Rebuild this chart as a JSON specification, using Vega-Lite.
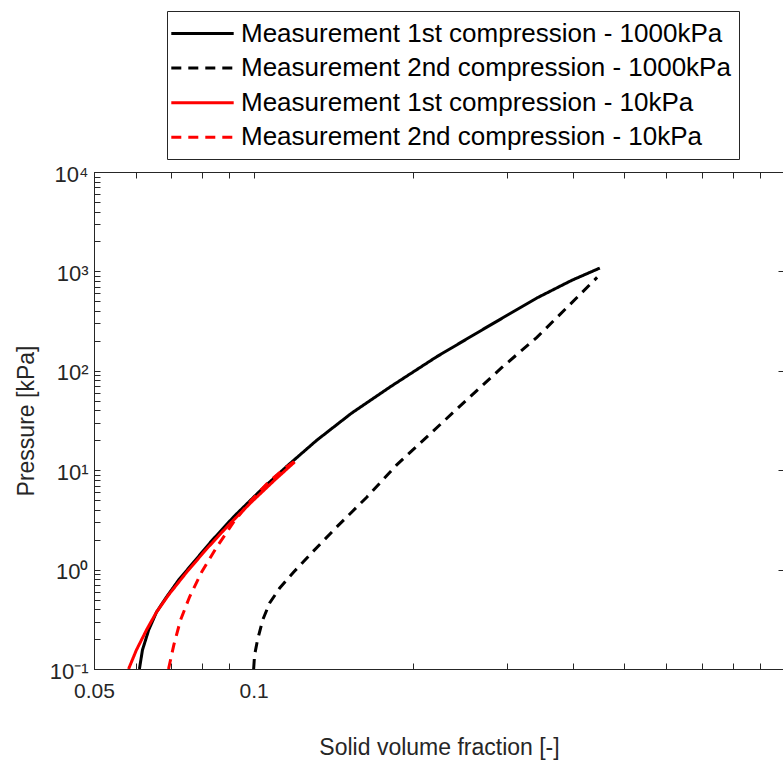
{
  "$schema": "https://vega.github.io/schema/vega-lite/v6.json",
  "width": 690,
  "height": 497,
  "autosize": {"type": "none"},
  "padding": {"left": 94, "top": 172, "right": 0, "bottom": 96},
  "background": "white",
  "config": {
    "view": {"stroke": "#262626", "strokeWidth": 1},
    "font": "Liberation Sans",
    "axis": {
      "grid": false,
      "domainColor": "#262626",
      "tickColor": "#262626",
      "labelColor": "#262626",
      "titleColor": "#262626",
      "labelFont": "Liberation Sans",
      "titleFont": "Liberation Sans",
      "labelFontSize": 21,
      "titleFontSize": 23,
      "titleFontWeight": "normal",
      "tickSize": -6,
      "labelFlush": false,
      "labelOverlap": false
    }
  },
  "datasets": {
    "curves": [
      {"series": "Measurement 1st compression - 1000kPa", "ord": 1, "x": 0.0609, "y": 0.1},
      {"series": "Measurement 1st compression - 1000kPa", "ord": 2, "x": 0.0617, "y": 0.155},
      {"series": "Measurement 1st compression - 1000kPa", "ord": 3, "x": 0.0634, "y": 0.247},
      {"series": "Measurement 1st compression - 1000kPa", "ord": 4, "x": 0.0656, "y": 0.374},
      {"series": "Measurement 1st compression - 1000kPa", "ord": 5, "x": 0.0685, "y": 0.53},
      {"series": "Measurement 1st compression - 1000kPa", "ord": 6, "x": 0.0722, "y": 0.786},
      {"series": "Measurement 1st compression - 1000kPa", "ord": 7, "x": 0.0771, "y": 1.19},
      {"series": "Measurement 1st compression - 1000kPa", "ord": 8, "x": 0.0833, "y": 1.94},
      {"series": "Measurement 1st compression - 1000kPa", "ord": 9, "x": 0.0917, "y": 3.4},
      {"series": "Measurement 1st compression - 1000kPa", "ord": 10, "x": 0.1022, "y": 6.0},
      {"series": "Measurement 1st compression - 1000kPa", "ord": 11, "x": 0.1154, "y": 10.9},
      {"series": "Measurement 1st compression - 1000kPa", "ord": 12, "x": 0.1315, "y": 20.0},
      {"series": "Measurement 1st compression - 1000kPa", "ord": 13, "x": 0.1531, "y": 37.6},
      {"series": "Measurement 1st compression - 1000kPa", "ord": 14, "x": 0.1821, "y": 70.5},
      {"series": "Measurement 1st compression - 1000kPa", "ord": 15, "x": 0.2214, "y": 138.6},
      {"series": "Measurement 1st compression - 1000kPa", "ord": 16, "x": 0.2752, "y": 275},
      {"series": "Measurement 1st compression - 1000kPa", "ord": 17, "x": 0.3420, "y": 540},
      {"series": "Measurement 1st compression - 1000kPa", "ord": 18, "x": 0.3979, "y": 813},
      {"series": "Measurement 1st compression - 1000kPa", "ord": 19, "x": 0.4495, "y": 1081},
      {"series": "Measurement 2nd compression - 1000kPa", "ord": 1, "x": 0.1000, "y": 0.1},
      {"series": "Measurement 2nd compression - 1000kPa", "ord": 2, "x": 0.1004, "y": 0.138},
      {"series": "Measurement 2nd compression - 1000kPa", "ord": 3, "x": 0.1017, "y": 0.196},
      {"series": "Measurement 2nd compression - 1000kPa", "ord": 4, "x": 0.1040, "y": 0.311},
      {"series": "Measurement 2nd compression - 1000kPa", "ord": 5, "x": 0.1072, "y": 0.461},
      {"series": "Measurement 2nd compression - 1000kPa", "ord": 6, "x": 0.1120, "y": 0.654},
      {"series": "Measurement 2nd compression - 1000kPa", "ord": 7, "x": 0.1190, "y": 0.945},
      {"series": "Measurement 2nd compression - 1000kPa", "ord": 8, "x": 0.1286, "y": 1.47},
      {"series": "Measurement 2nd compression - 1000kPa", "ord": 9, "x": 0.1434, "y": 2.68},
      {"series": "Measurement 2nd compression - 1000kPa", "ord": 10, "x": 0.1634, "y": 5.35},
      {"series": "Measurement 2nd compression - 1000kPa", "ord": 11, "x": 0.1861, "y": 11.3},
      {"series": "Measurement 2nd compression - 1000kPa", "ord": 12, "x": 0.2168, "y": 24.1},
      {"series": "Measurement 2nd compression - 1000kPa", "ord": 13, "x": 0.2522, "y": 51.0},
      {"series": "Measurement 2nd compression - 1000kPa", "ord": 14, "x": 0.2935, "y": 107.5},
      {"series": "Measurement 2nd compression - 1000kPa", "ord": 15, "x": 0.3420, "y": 217},
      {"series": "Measurement 2nd compression - 1000kPa", "ord": 16, "x": 0.3897, "y": 433},
      {"series": "Measurement 2nd compression - 1000kPa", "ord": 17, "x": 0.4442, "y": 870},
      {"series": "Measurement 1st compression - 10kPa", "ord": 1, "x": 0.0581, "y": 0.1},
      {"series": "Measurement 1st compression - 10kPa", "ord": 2, "x": 0.0601, "y": 0.155},
      {"series": "Measurement 1st compression - 10kPa", "ord": 3, "x": 0.0628, "y": 0.247},
      {"series": "Measurement 1st compression - 10kPa", "ord": 4, "x": 0.0656, "y": 0.374},
      {"series": "Measurement 1st compression - 10kPa", "ord": 5, "x": 0.0691, "y": 0.555},
      {"series": "Measurement 1st compression - 10kPa", "ord": 6, "x": 0.0748, "y": 0.946},
      {"series": "Measurement 1st compression - 10kPa", "ord": 7, "x": 0.0815, "y": 1.61},
      {"series": "Measurement 1st compression - 10kPa", "ord": 8, "x": 0.0897, "y": 2.81},
      {"series": "Measurement 1st compression - 10kPa", "ord": 9, "x": 0.0991, "y": 4.79},
      {"series": "Measurement 1st compression - 10kPa", "ord": 10, "x": 0.1096, "y": 7.97},
      {"series": "Measurement 1st compression - 10kPa", "ord": 11, "x": 0.1195, "y": 12.1},
      {"series": "Measurement 2nd compression - 10kPa", "ord": 1, "x": 0.0691, "y": 0.1},
      {"series": "Measurement 2nd compression - 10kPa", "ord": 2, "x": 0.0707, "y": 0.174},
      {"series": "Measurement 2nd compression - 10kPa", "ord": 3, "x": 0.0728, "y": 0.311},
      {"series": "Measurement 2nd compression - 10kPa", "ord": 4, "x": 0.0757, "y": 0.530},
      {"series": "Measurement 2nd compression - 10kPa", "ord": 5, "x": 0.0798, "y": 0.946},
      {"series": "Measurement 2nd compression - 10kPa", "ord": 6, "x": 0.0852, "y": 1.69},
      {"series": "Measurement 2nd compression - 10kPa", "ord": 7, "x": 0.0917, "y": 3.01},
      {"series": "Measurement 2nd compression - 10kPa", "ord": 8, "x": 0.0991, "y": 5.01},
      {"series": "Measurement 2nd compression - 10kPa", "ord": 9, "x": 0.1067, "y": 7.61},
      {"series": "Measurement 2nd compression - 10kPa", "ord": 10, "x": 0.1154, "y": 10.8},
      {"series": "Measurement 2nd compression - 10kPa", "ord": 11, "x": 0.1205, "y": 12.7}
    ]
  },
  "layer": [
    {
      "data": {"name": "curves"},
      "mark": {"type": "line", "strokeWidth": 3, "clip": true},
      "encoding": {
        "x": {
          "field": "x", "type": "quantitative",
          "scale": {"type": "log", "domain": [0.05, 1], "nice": false},
          "axis": {
            "orient": "bottom",
            "values": [0.05, 0.06, 0.07, 0.08, 0.09, 0.1, 0.2, 0.3, 0.4, 0.5, 0.6, 0.7, 0.8, 0.9],
            "labelExpr": "datum.value == 0.05 ? '0.05' : datum.value == 0.1 ? '0.1' : ''",
            "labelPadding": 17,
            "title": "Solid volume fraction [-]",
            "titleBaseline": "alphabetic",
            "titleY": 85
          }
        },
        "y": {
          "field": "y", "type": "quantitative",
          "scale": {"type": "log", "domain": [0.1, 10000], "nice": false},
          "axis": {
            "orient": "left",
            "values": [0.1, 0.2, 0.3, 0.4, 0.5, 0.6, 0.7, 0.8, 0.9, 1, 2, 3, 4, 5, 6, 7, 8, 9, 10, 20, 30, 40, 50, 60, 70, 80, 90, 100, 200, 300, 400, 500, 600, 700, 800, 900, 1000, 2000, 3000, 4000, 5000, 6000, 7000, 8000, 9000, 10000],
            "labelExpr": "datum.value == 0.1 ? '10⁻¹' : datum.value == 1 ? '10⁰' : datum.value == 10 ? '10¹' : datum.value == 100 ? '10²' : datum.value == 1000 ? '10³' : datum.value == 10000 ? '10⁴' : ''",
            "labelFontSize": 22,
            "labelPadding": 12,
            "labelOffset": 2,
            "title": "Pressure [kPa]",
            "titleBaseline": "alphabetic",
            "titleX": -61
          }
        },
        "color": {
          "field": "series", "type": "nominal",
          "scale": {
            "domain": ["Measurement 1st compression - 1000kPa", "Measurement 2nd compression - 1000kPa", "Measurement 1st compression - 10kPa", "Measurement 2nd compression - 10kPa"],
            "range": ["#000000", "#000000", "#ff0000", "#ff0000"]
          },
          "legend": {
            "title": null, "orient": "none", "legendX": 73, "legendY": -161,
            "symbolType": "M-1.4,0H3.4", "symbolSize": 676, "symbolStrokeWidth": 3,
            "labelFont": "Liberation Sans", "labelFontSize": 26, "labelColor": "#000000", "labelLimit": 0,
            "labelOffset": 37, "rowPadding": 6.6, "padding": 8,
            "strokeColor": "#262626", "fillColor": "white"
          }
        },
        "strokeDash": {
          "field": "series", "type": "nominal",
          "scale": {
            "domain": ["Measurement 1st compression - 1000kPa", "Measurement 2nd compression - 1000kPa", "Measurement 1st compression - 10kPa", "Measurement 2nd compression - 10kPa"],
            "range": [[1, 0], [10, 7], [1, 0], [10, 7]]
          },
          "legend": {
            "title": null, "orient": "none", "legendX": 73, "legendY": -161,
            "symbolType": "M-1.4,0H3.4", "symbolSize": 676, "symbolStrokeWidth": 3,
            "labelFont": "Liberation Sans", "labelFontSize": 26, "labelColor": "#000000", "labelLimit": 0,
            "labelOffset": 37, "rowPadding": 6.6, "padding": 8,
            "strokeColor": "#262626", "fillColor": "white"
          }
        },
        "order": {"field": "ord", "type": "quantitative"}
      }
    },
    {
      "data": {"name": "curves"},
      "mark": {"type": "point", "opacity": 0},
      "encoding": {
        "x": {
          "field": "x", "type": "quantitative",
          "axis": {
            "orient": "top", "labels": false, "title": null,
            "values": [0.05, 0.06, 0.07, 0.08, 0.09, 0.1, 0.2, 0.3, 0.4, 0.5, 0.6, 0.7, 0.8, 0.9]
          }
        },
        "y": {
          "field": "y", "type": "quantitative",
          "axis": {
            "orient": "right", "labels": false, "title": null,
            "values": [0.1, 1, 10, 100, 1000, 10000]
          }
        }
      }
    }
  ],
  "resolve": {"axis": {"x": "independent", "y": "independent"}}
}
